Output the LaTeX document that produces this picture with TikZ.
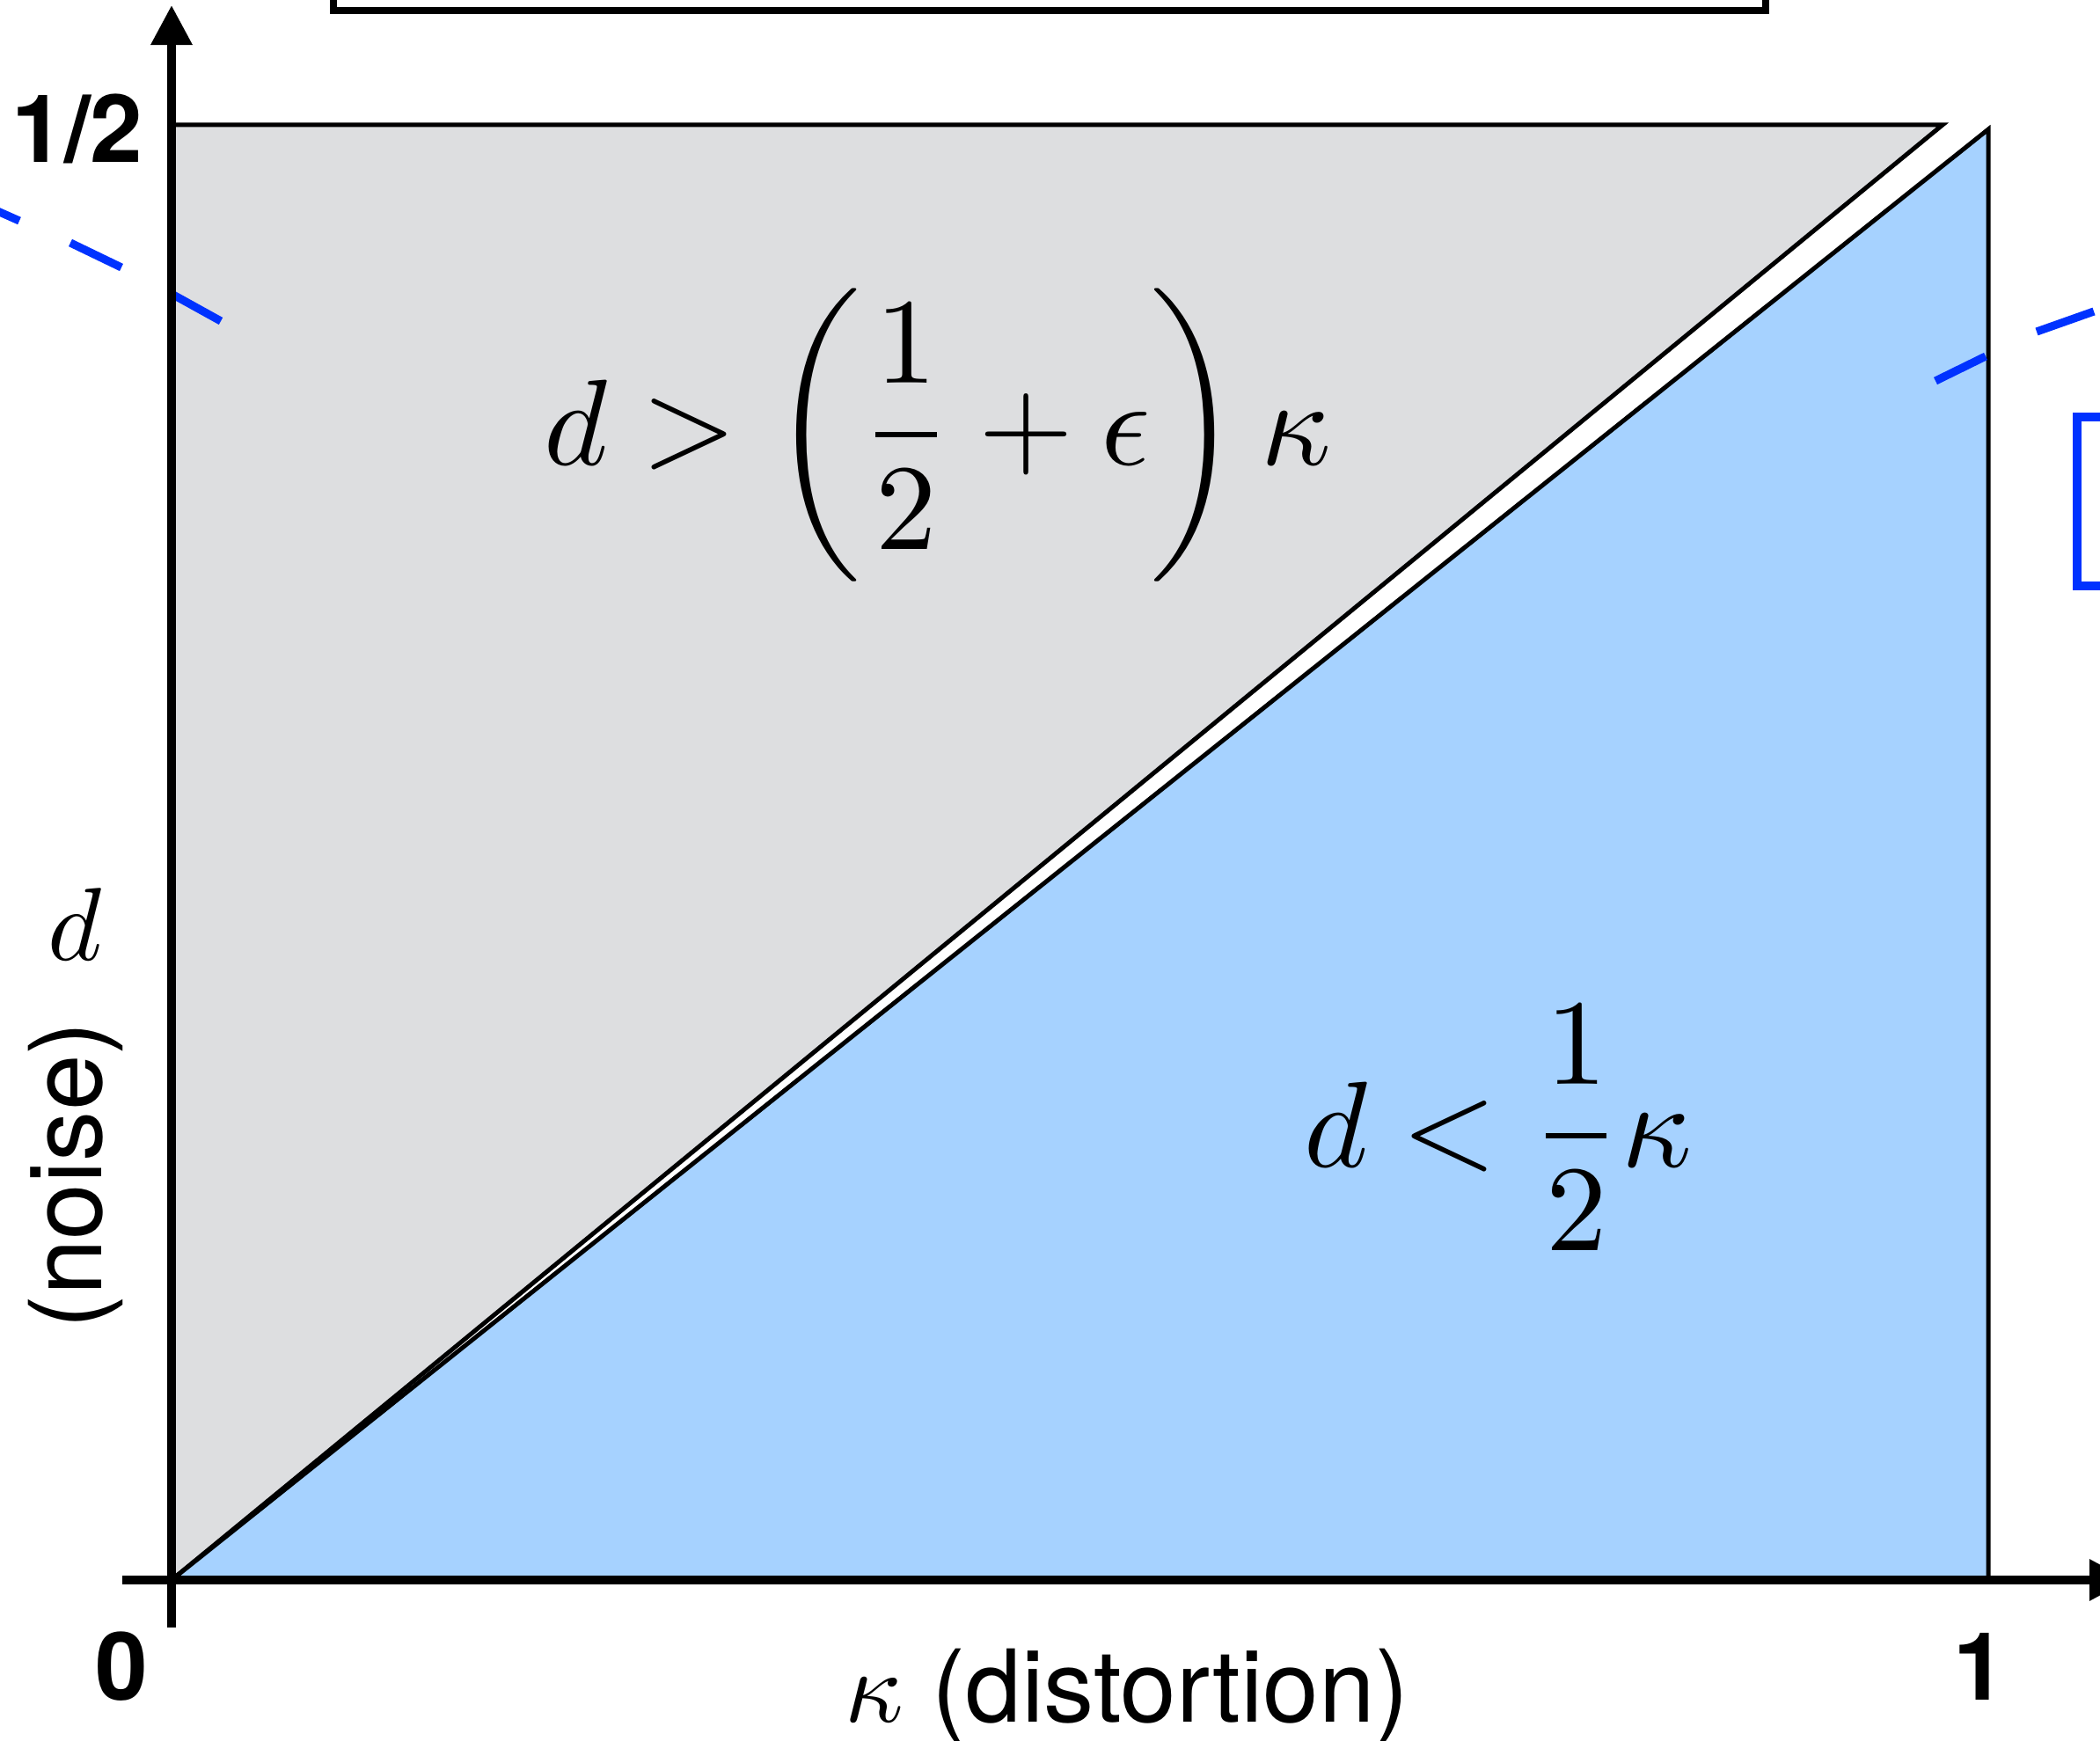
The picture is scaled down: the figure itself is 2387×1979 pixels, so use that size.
\documentclass[tikz,border=0pt]{standalone}
\usepackage{fontspec}
\setsansfont{TeX Gyre Heros}
\usepackage{graphicx}
\usetikzlibrary{arrows.meta}
\definecolor{regiongray}{RGB}{221,222,224}
\definecolor{regionblue}{RGB}{166,210,255}
\definecolor{dashblue}{RGB}{0,50,255}
\begin{document}
\begin{tikzpicture}[x=0.01cm,y=-0.01cm,
  thinedge/.style={draw=black,line width=1.42pt,line join=miter},
  axisline/.style={line width=2.7pt,-{Triangle[length=12.8pt,width=12.8pt]}},
  bluedash/.style={draw=dashblue,line width=2.6pt},
  bluebracket/.style={draw=dashblue,line width=3pt},
  topbox/.style={draw=black,line width=2.3pt},
  ticklabel/.style={font=\fontsize{30.5}{36}\selectfont\sffamily\bfseries,inner sep=0pt},
  axislabel/.style={font=\fontsize{32.5}{39}\selectfont\sffamily,inner sep=0pt},
  formula/.style={inner sep=0pt}]
\useasboundingbox (0,0) rectangle (2387,1979);
\clip (0,0) rectangle (2387,1979);
% corner points
\coordinate (O) at (195,1796);
\coordinate (G1) at (195,142);
\coordinate (G2) at (2208,142);
\coordinate (B1) at (2260,147);
\coordinate (B2) at (2260,1796);
% regions
\fill[regiongray] (O) -- (G1) -- (G2) -- cycle;
\draw[thinedge] (G1) -- (G2) -- (O);
\fill[regionblue] (O) -- (B1) -- (B2) -- cycle;
\draw[thinedge] (O) -- (B1) -- (B2);
% top box
\coordinate (TB1) at (379,-40);
\coordinate (TB2) at (2007,12);
\draw[topbox] (TB1) rectangle (TB2);
% blue dashes (parts of neighbouring curves)
\draw[bluedash] (-5,239) -- (22,251);
\draw[bluedash] (80,276) -- (138,304);
\draw[bluedash] (195,334) -- (251,365);
\draw[bluedash] (2200,433) -- (2257,405);
\draw[bluedash] (2315,377) -- (2380,354);
% blue bracket at right edge
\coordinate (K1) at (2400,474);
\coordinate (K2) at (2361,474);
\coordinate (K3) at (2361,666);
\coordinate (K4) at (2400,666);
\draw[bluebracket] (K1) -- (K2) -- (K3) -- (K4);
% axes
\coordinate (yb) at (195,1850);
\coordinate (yt) at (195,6);
\draw[axisline] (yb) -- (yt);
\coordinate (xl) at (139,1796);
\coordinate (xr) at (2420,1796);
\draw[axisline] (xl) -- (xr);
% labels
\node[ticklabel,anchor=base] (half) at (88,185) {1/2};
\node[ticklabel,anchor=base] (zero) at (138,1932) {0};
\node[ticklabel,anchor=base] (one) at (2250,1932) {1};
\node[axislabel,anchor=base] (xlab) at (1281,1957) {\scalebox{3.3}{\normalsize$\kappa$} (distortion)};
\node[axislabel,rotate=90,anchor=base] (ylab) at (115,1336) {(noise)};
\node[formula,anchor=base] (dlab) at (85,1091) {\scalebox{3.35}{$d$}};
\node[formula,anchor=base] (upper) at (1066,529) {\scalebox{3.95}{$\displaystyle d > \left(\frac{1}{2}+\epsilon\right)\kappa$}};
\node[formula,anchor=base] (lower) at (1703,1326) {\scalebox{3.95}{$\displaystyle d < \frac{1}{2}\kappa$}};
\end{tikzpicture}
\end{document}
